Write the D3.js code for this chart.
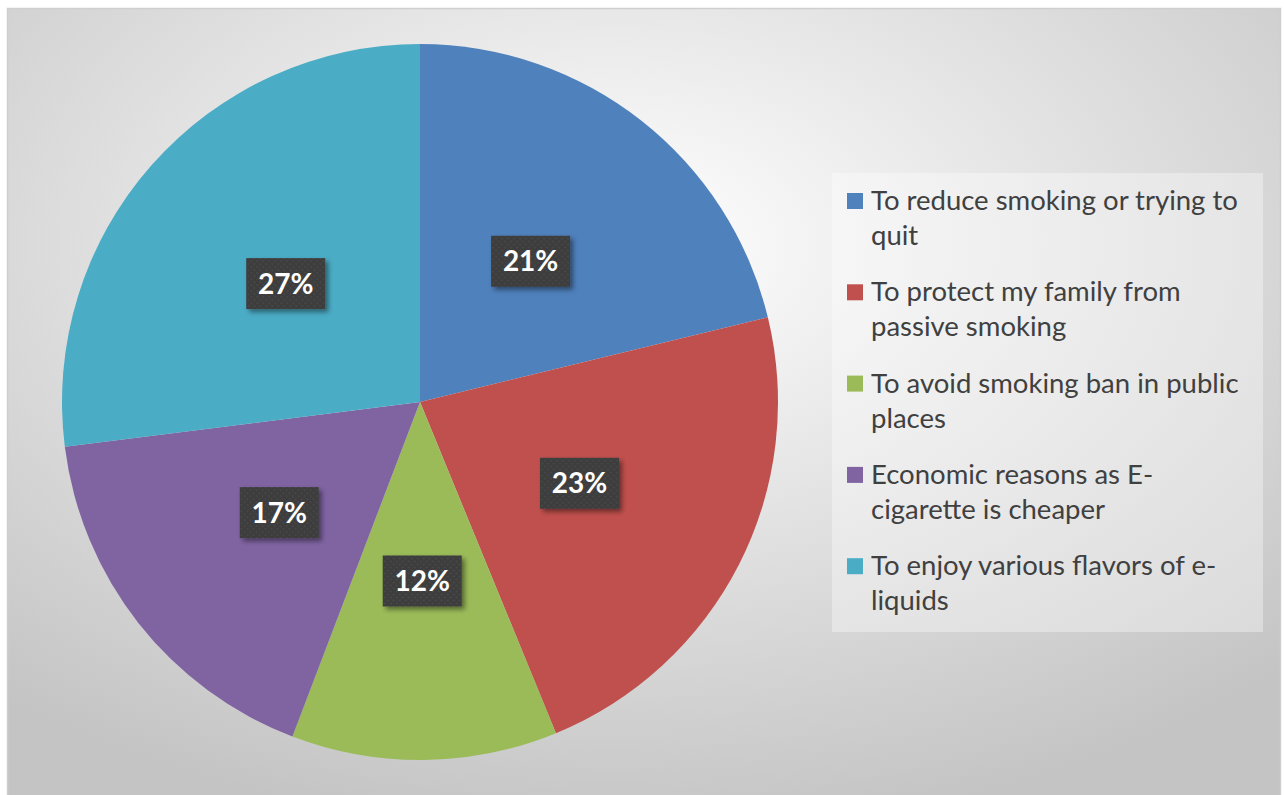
<!DOCTYPE html>
<html><head><meta charset="utf-8">
<script src="https://cdn.jsdelivr.net/npm/d3@7"></script>
<style>html,body{margin:0;padding:0;background:#fff;}svg{display:block;}</style>
</head><body>
<svg id="chart" width="1285" height="795"></svg>
<script>
const categories = [
  "To reduce smoking or trying to quit",
  "To protect my family from passive smoking",
  "To avoid smoking ban in public places",
  "Economic reasons as E-cigarette is cheaper",
  "To enjoy various flavors of e-liquids"
];
const legendLines = [
  ["To reduce smoking or trying to", "quit"],
  ["To protect my family from", "passive smoking"],
  ["To avoid smoking ban in public", "places"],
  ["Economic reasons as E-", "cigarette is cheaper"],
  ["To enjoy various flavors of e-", "liquids"]
];
const values = [21.2, 22.6, 12.0, 17.2, 27.0];
const colors = ["#4F81BD", "#C0504D", "#9BBB59", "#8064A2", "#4BACC6"];

const svg = d3.select("#chart");
const defs = svg.append("defs");

const bg = defs.append("radialGradient").attr("id","bg")
  .attr("cx","48%").attr("cy","30%").attr("r","75%");
bg.append("stop").attr("offset","0%").attr("stop-color","#ffffff");
bg.append("stop").attr("offset","100%").attr("stop-color","#c4c4c4");

const pat = defs.append("pattern").attr("id","dots").attr("patternUnits","userSpaceOnUse")
  .attr("width",6).attr("height",6);
pat.append("rect").attr("width",6).attr("height",6).attr("fill","#3c3c3c");
pat.append("circle").attr("cx",1.5).attr("cy",1.5).attr("r",1.1).attr("fill","#4a4a4a");
pat.append("circle").attr("cx",4.5).attr("cy",4.5).attr("r",1.1).attr("fill","#4a4a4a");

const sh = defs.append("filter").attr("id","shadow").attr("x","-20%").attr("y","-20%").attr("width","150%").attr("height","150%");
sh.append("feDropShadow").attr("dx",3).attr("dy",3).attr("stdDeviation",2.5)
  .attr("flood-color","#000").attr("flood-opacity",0.45);

// background + border
svg.append("rect").attr("x",7.5).attr("y",8.5).attr("width",1273).attr("height",790)
  .attr("fill","url(#bg)").attr("stroke","#cfcfcf").attr("stroke-width",1.5);

const cx = 420, cy = 402, R = 358;
const g = svg.append("g").attr("transform",`translate(${cx},${cy})`);

const pie = d3.pie().sort(null).value(d => d);
const arcs = pie(values);
const arc = d3.arc().innerRadius(0).outerRadius(R);
const color = d3.scaleOrdinal().domain(d3.range(values.length)).range(colors);

g.selectAll("path.slice").data(arcs).join("path")
  .attr("class","slice")
  .attr("d", arc)
  .attr("fill", (d,i) => color(i));

const total = d3.sum(values);
const fmt = v => Math.round(v / total * 100) + "%";

const lab = g.selectAll("g.lab").data(arcs).join("g").attr("class","lab")
  .attr("transform", d => `translate(${arc.centroid(d)})`);
const bw = 79, bh = 51;
lab.append("rect").attr("x",-bw/2).attr("y",-bh/2).attr("width",bw).attr("height",bh)
  .attr("fill","url(#dots)").attr("filter","url(#shadow)");
lab.append("text").attr("text-anchor","middle").attr("dy","0.36em")
  .attr("font-family","Lato, 'Open Sans', sans-serif").attr("font-weight","bold")
  .attr("font-size",28).attr("fill","#ffffff")
  .text(d => fmt(d.data));

// legend
svg.append("rect").attr("x",832).attr("y",173).attr("width",431).attr("height",459)
  .attr("fill","#ffffff").attr("fill-opacity",0.35);

const lg = svg.append("g");
const firstBase = 210, entryStep = 91.3, lineStep = 35;
const items = lg.selectAll("g.item").data(categories).join("g").attr("class","item")
  .attr("transform", (d,i) => `translate(0,${firstBase + i*entryStep})`);
items.append("rect").attr("x",847).attr("y",-17).attr("width",16).attr("height",16)
  .attr("fill", (d,i) => color(i));
items.each(function(d,i){
  const t = d3.select(this).append("text")
    .attr("font-family","Lato, 'Open Sans', sans-serif").attr("font-size",27.5)
    .attr("fill","#404040");
  legendLines[i].forEach((ln,k) => {
    t.append("tspan").attr("x",871).attr("y",k*lineStep).text(ln);
  });
});
</script>
</body></html>
